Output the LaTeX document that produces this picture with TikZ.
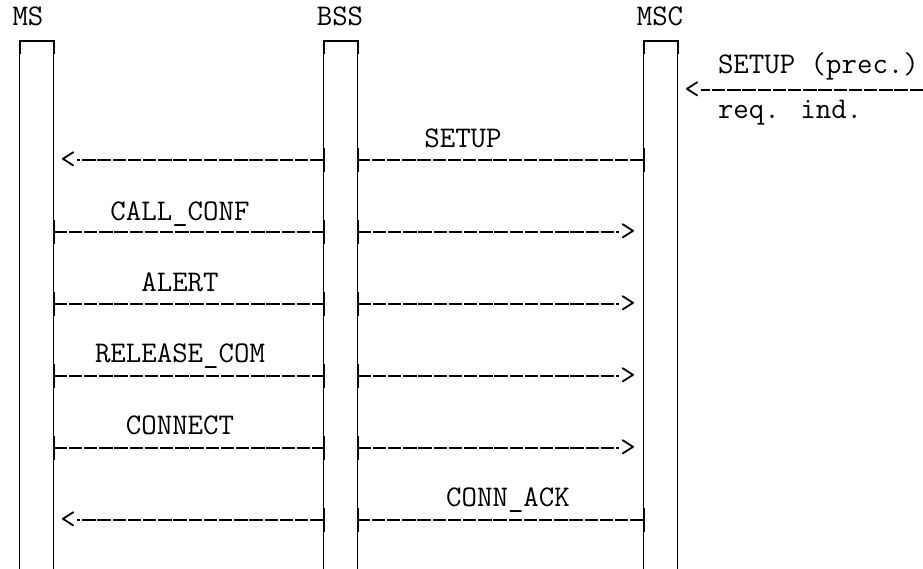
\documentclass[tikz,border=0pt]{standalone}
\usepackage{fontspec}
\usepackage{tikz}

\begin{document}
\begin{tikzpicture}[x = 1pt, y = -1pt, line width = 2pt,
                        txt/.style = {font = \fontsize{30}{32}\selectfont\ttfamily, inner sep = 0pt},
                        lifebar/.style = {minimum width = 32pt, minimum height = 526pt, inner sep = 0pt},
                        side/.style = {line width = 1.2pt},
                        msg/.style = {line width = 2.2pt, dash pattern = on 13.4pt off 1.8pt},
                        tick/.style = {line width = 2pt}]
      \useasboundingbox (0, 0) rectangle (923, 568);
      % lifelines
      \node [txt, anchor = base] (ms) at (28, 25){MS};
      \node [txt, anchor = base] (bss) at (340, 25){BSS};
      \node [txt, anchor = base] (msc) at (660, 25){MSC};
      \node [lifebar] (msbar) at (36.5, 305){};
      \node [lifebar] (bssbar) at (340.5, 305){};
      \node [lifebar] (mscbar) at (660.5, 305){};
      \draw [side] (msbar.south west) -- (msbar.north west) -- (msbar.north east) -- (msbar.south east);
      \draw [side] (bssbar.south west) -- (bssbar.north west) -- (bssbar.north east) -- (bssbar.south east);
      \draw [side] (mscbar.south west) -- (mscbar.north west) -- (mscbar.north east) -- (mscbar.south east);
      \draw [tick] ([yshift = -13pt]msbar.north west) -- (msbar.north west) -- (msbar.north east) -- ([yshift = -13pt]msbar.north east);
      \draw [tick] ([yshift = -13pt]bssbar.north west) -- (bssbar.north west) -- (bssbar.north east) -- ([yshift = -13pt]bssbar.north east);
      \draw [tick] ([yshift = -13pt]mscbar.north west) -- (mscbar.north west) -- (mscbar.north east) -- ([yshift = -13pt]mscbar.north east);
      % rows
      \coordinate (r1) at (0, 160);
      \coordinate (r2) at (0, 232);
      \coordinate (r3) at (0, 304);
      \coordinate (r4) at (0, 376);
      \coordinate (r5) at (0, 448);
      \coordinate (r6) at (0, 520);
      % incoming setup
      \coordinate (rim) at (923, 90);
      \node [txt] (lt0) at (692, 90){<};
      \node [txt, anchor = base west] (prec) at (717, 73){SETUP (prec.)};
      \node [txt, anchor = base west] (reqind) at (717, 118){req. ind.};
      \draw [msg] (rim) -- (lt0.east);
      % SETUP
      \node [txt, anchor = base] (setup) at (463, 147){SETUP};
      \node [txt] (lt1) at (68, 160){<};
      \draw [msg] (mscbar.west |- r1) -- (bssbar.east |- r1);
      \draw [msg] (bssbar.west |- r1) -- (lt1.east);
      \draw [tick] ([yshift = 12pt]mscbar.west |- r1) -- ++(0, 24);
      \draw [tick] ([yshift = 12pt]bssbar.east |- r1) -- ++(0, 24);
      \draw [tick] ([yshift = 12pt]bssbar.west |- r1) -- ++(0, 24);
      % CALL_CONF
      \node [txt, anchor = base] (callconf) at (180, 220){CALL\_CONF};
      \node [txt] (gt2) at (628, 232){>};
      \draw [msg] (msbar.east |- r2) -- (bssbar.west |- r2);
      \draw [msg] (bssbar.east |- r2) -- (gt2.west);
      \draw [tick] ([yshift = 12pt]msbar.east |- r2) -- ++(0, 24);
      \draw [tick] ([yshift = 12pt]bssbar.west |- r2) -- ++(0, 24);
      \draw [tick] ([yshift = 12pt]bssbar.east |- r2) -- ++(0, 24);
      % ALERT
      \node [txt, anchor = base] (alert) at (180, 291){ALERT};
      \node [txt] (gt3) at (628, 304){>};
      \draw [msg] (msbar.east |- r3) -- (bssbar.west |- r3);
      \draw [msg] (bssbar.east |- r3) -- (gt3.west);
      \draw [tick] ([yshift = 12pt]msbar.east |- r3) -- ++(0, 24);
      \draw [tick] ([yshift = 12pt]bssbar.west |- r3) -- ++(0, 24);
      \draw [tick] ([yshift = 12pt]bssbar.east |- r3) -- ++(0, 24);
      % RELEASE_COM
      \node [txt, anchor = base] (relcom) at (180, 362){RELEASE\_COM};
      \node [txt] (gt4) at (628, 376){>};
      \draw [msg] (msbar.east |- r4) -- (bssbar.west |- r4);
      \draw [msg] (bssbar.east |- r4) -- (gt4.west);
      \draw [tick] ([yshift = 12pt]msbar.east |- r4) -- ++(0, 24);
      \draw [tick] ([yshift = 12pt]bssbar.west |- r4) -- ++(0, 24);
      \draw [tick] ([yshift = 12pt]bssbar.east |- r4) -- ++(0, 24);
      % CONNECT
      \node [txt, anchor = base] (connect) at (180, 434){CONNECT};
      \node [txt] (gt5) at (628, 448){>};
      \draw [msg] (msbar.east |- r5) -- (bssbar.west |- r5);
      \draw [msg] (bssbar.east |- r5) -- (gt5.west);
      \draw [tick] ([yshift = 12pt]msbar.east |- r5) -- ++(0, 24);
      \draw [tick] ([yshift = 12pt]bssbar.west |- r5) -- ++(0, 24);
      \draw [tick] ([yshift = 12pt]bssbar.east |- r5) -- ++(0, 24);
      % CONN_ACK
      \node [txt, anchor = base] (connack) at (508, 506){CONN\_ACK};
      \node [txt] (lt6) at (68, 520){<};
      \draw [msg] (mscbar.west |- r6) -- (bssbar.east |- r6);
      \draw [msg] (bssbar.west |- r6) -- (lt6.east);
      \draw [tick] ([yshift = 12pt]mscbar.west |- r6) -- ++(0, 24);
      \draw [tick] ([yshift = 12pt]bssbar.east |- r6) -- ++(0, 24);
      \draw [tick] ([yshift = 12pt]bssbar.west |- r6) -- ++(0, 24);
    \end{tikzpicture}
\end{document}
